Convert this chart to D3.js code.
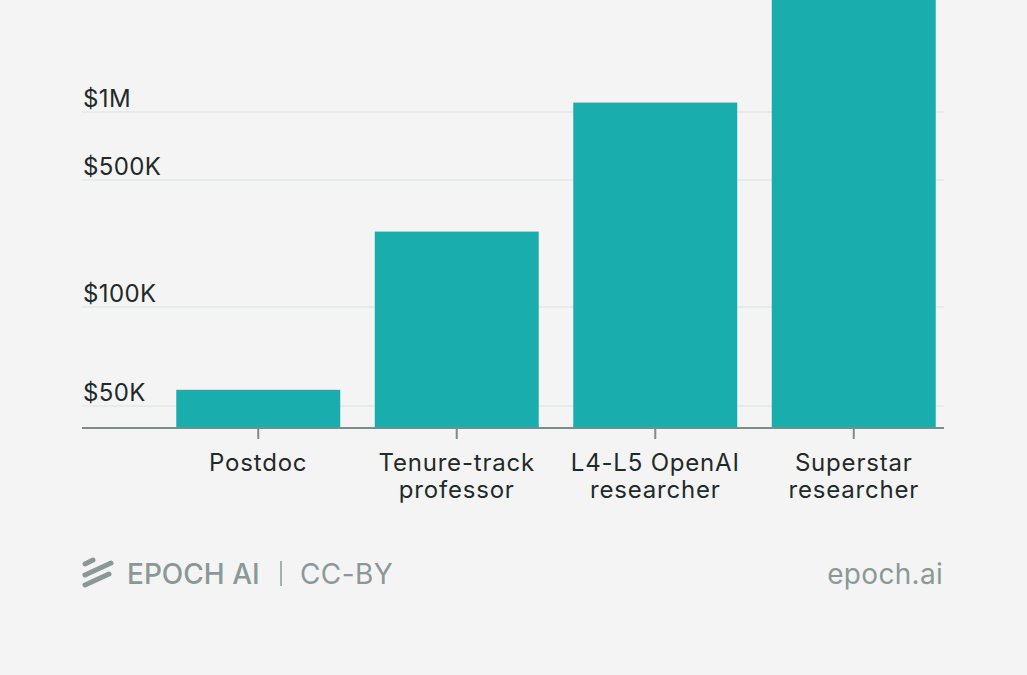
<!DOCTYPE html>
<html>
<head>
<meta charset="utf-8">
<script src="https://cdn.jsdelivr.net/npm/d3@7"></script>
<style>
  html, body { margin: 0; padding: 0; background: #f4f4f4; }
  svg { display: block; font-family: Inter, "Noto Sans", sans-serif; }
</style>
</head>
<body>
<svg id="chart" width="1027" height="675"></svg>
<script>
// data
const categories = [
  ["Postdoc"],
  ["Tenure-track", "professor"],
  ["L4-L5 OpenAI", "researcher"],
  ["Superstar", "researcher"]
];
const salaries = [56000, 260000, 1100000, 10000000];
const tickValues = [50000, 100000, 500000, 1000000];
const tickLabels = ["$50K", "$100K", "$500K", "$1M"];

const W = 1027, H = 675;
const svg = d3.select("#chart");
svg.append("rect").attr("width", W).attr("height", H).attr("fill", "#f4f4f4");

const axisLeft = 82, axisRight = 944, baseY = 428;

// piecewise log scale, the way the original spaces its ticks
const y = d3.scaleLog()
  .domain([40000, 50000, 100000, 500000, 1000000, 3100000])
  .range([baseY, baseY - 22, baseY - 121, baseY - 248, baseY - 316, 0])
  .clamp(true);

const x = d3.scaleBand()
  .domain(d3.range(categories.length))
  .range([159, 953])
  .paddingInner(0.174)
  .paddingOuter(0.087);

// gridlines
svg.append("g")
  .selectAll("line")
  .data(tickValues)
  .join("line")
  .attr("x1", axisLeft)
  .attr("x2", axisRight)
  .attr("y1", d => y(d))
  .attr("y2", d => y(d))
  .attr("stroke", "#e2eae8")
  .attr("stroke-width", 1.5);

// y labels sit on top of the gridlines
svg.append("g")
  .selectAll("text")
  .data(tickValues)
  .join("text")
  .attr("x", 83)
  .attr("y", d => y(d) - 5)
  .attr("font-size", 24)
  .attr("letter-spacing", 0.4)
  .attr("fill", "#1f2a2a")
  .text((d, i) => tickLabels[i]);

// bars
svg.append("g")
  .selectAll("rect")
  .data(salaries)
  .join("rect")
  .attr("x", (d, i) => x(i))
  .attr("width", x.bandwidth())
  .attr("y", d => y(d))
  .attr("height", d => baseY - y(d))
  .attr("fill", "#1aadad");

// x axis line + ticks
svg.append("line")
  .attr("x1", axisLeft).attr("x2", axisRight)
  .attr("y1", baseY).attr("y2", baseY)
  .attr("stroke", "#7b8c8a").attr("stroke-width", 2);

const ticks = svg.append("g")
  .selectAll("g")
  .data(categories)
  .join("g")
  .attr("transform", (d, i) => `translate(${x(i) + x.bandwidth() / 2},${baseY})`);

ticks.append("line")
  .attr("y1", 0).attr("y2", 11)
  .attr("stroke", "#7b8c8a").attr("stroke-width", 2);

ticks.append("text")
  .attr("text-anchor", "middle")
  .attr("font-size", 24)
  .attr("letter-spacing", 0.8)
  .attr("fill", "#1f2a2a")
  .selectAll("tspan")
  .data(d => d)
  .join("tspan")
  .attr("x", 0)
  .attr("y", (d, i) => 43 + i * 27)
  .text(d => d);

// footer
const foot = svg.append("g").attr("fill", "#8a9997");
const logo = foot.append("g")
  .attr("stroke", "#8a9997")
  .attr("stroke-width", 5)
  .attr("stroke-linecap", "round");
logo.append("line").attr("x1", 85).attr("y1", 564).attr("x2", 93).attr("y2", 560);
logo.append("line").attr("x1", 85).attr("y1", 575).attr("x2", 111).attr("y2", 563);
logo.append("line").attr("x1", 85).attr("y1", 585).attr("x2", 109).attr("y2", 574);

foot.append("text")
  .attr("x", 127).attr("y", 584)
  .attr("font-size", 28)
  .attr("font-weight", 500)
  .attr("letter-spacing", 0)
  .text("EPOCH AI");
foot.append("line")
  .attr("x1", 281).attr("x2", 281)
  .attr("y1", 561).attr("y2", 586)
  .attr("stroke", "#8a9997").attr("stroke-width", 1.5);
foot.append("text")
  .attr("x", 300).attr("y", 584)
  .attr("font-size", 28)
  .attr("letter-spacing", 0.4)
  .text("CC-BY");
foot.append("text")
  .attr("x", 943).attr("y", 584)
  .attr("text-anchor", "end")
  .attr("font-size", 28)
  .attr("letter-spacing", 0.3)
  .text("epoch.ai");
</script>
</body>
</html>
